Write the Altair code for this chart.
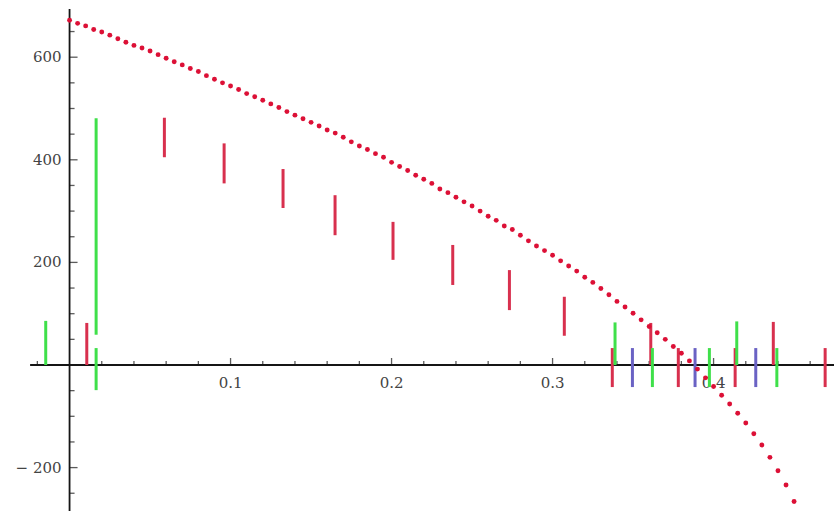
import altair as alt
import pandas as pd

# Sampled curve (dotted red)
curve_x = [
    0.000, 0.005, 0.010, 0.015, 0.020, 0.025, 0.030, 0.035, 0.040, 0.045,
    0.050, 0.055, 0.060, 0.065, 0.070, 0.075, 0.080, 0.085, 0.090, 0.095,
    0.100, 0.105, 0.110, 0.115, 0.120, 0.125, 0.130, 0.135, 0.140, 0.145,
    0.150, 0.155, 0.160, 0.165, 0.170, 0.175, 0.180, 0.185, 0.190, 0.195,
    0.200, 0.205, 0.210, 0.215, 0.220, 0.225, 0.230, 0.235, 0.240, 0.245,
    0.250, 0.255, 0.260, 0.265, 0.270, 0.275, 0.280, 0.285, 0.290, 0.295,
    0.300, 0.305, 0.310, 0.315, 0.320, 0.325, 0.330, 0.335, 0.340, 0.345,
    0.350, 0.355, 0.360, 0.365, 0.370, 0.375, 0.380, 0.385, 0.390, 0.395,
    0.400, 0.405, 0.410, 0.415, 0.420, 0.425, 0.430, 0.435, 0.440, 0.445,
    0.450,
]
curve_y = [
    672, 666, 661, 654, 649, 643, 636, 629, 623, 618,
    612, 605, 598, 591, 585, 578, 572, 564, 557, 550,
    544, 537, 529, 523, 516, 509, 502, 494, 487, 480,
    473, 466, 458, 452, 444, 435, 427, 420, 412, 405,
    395, 387, 379, 370, 362, 354, 343, 336, 327, 318,
    310, 300, 290, 282, 271, 264, 253, 242, 232, 223,
    214, 203, 193, 183, 171, 161, 149, 137, 124, 113,
    101, 88, 75, 63, 50, 36, 23, 8, -8, -25,
    -42, -59, -76, -94, -113, -134, -156, -180, -206, -234,
    -266,
]

# Vertical segments: position, lower end, upper end, series
seg_x = [
    -0.0148, 0.0107, 0.0165, 0.0165,
    0.0589, 0.0960, 0.1326, 0.1649, 0.2009, 0.2380, 0.2732, 0.3073,
    0.3371, 0.3388, 0.3496, 0.3610, 0.3620, 0.3781, 0.3885, 0.3974,
    0.4134, 0.4144, 0.4262, 0.4371, 0.4393, 0.4693,
]
seg_lo = [
    0, 0, 59, -49,
    405, 354, 306, 253, 205, 156, 107, 57,
    -43, 0, -43, 0, -43, -43, -43, -43,
    -43, 0, -43, 0, -43, -43,
]
seg_hi = [
    86, 82, 481, 33,
    482, 432, 382, 331, 279, 234, 185, 133,
    33, 83, 33, 82, 33, 33, 33, 33,
    33, 85, 33, 84, 33, 33,
]
seg_series = [
    "g", "r", "g", "g",
    "r", "r", "r", "r", "r", "r", "r", "r",
    "r", "g", "b", "r", "g", "r", "b", "g",
    "r", "g", "b", "r", "g", "r",
]

# Axis ticks and labels
x_major = [0.1, 0.2, 0.3, 0.4]
x_minor = [-0.02, 0.02, 0.04, 0.06, 0.08, 0.12, 0.14, 0.16, 0.18, 0.22, 0.24,
           0.26, 0.28, 0.32, 0.34, 0.36, 0.38, 0.42, 0.44, 0.46]
y_major = [-200, 200, 400, 600]
y_minor = [-250, -150, -100, -50, 50, 100, 150, 250, 300, 350, 450, 500, 550, 650]

X_DOMAIN = [-0.0432, 0.4748]
Y_DOMAIN = [-284.6, 711.5]
X_AXIS_START = -0.0245
Y_AXIS_TOP = 694

xs = alt.Scale(domain=X_DOMAIN, nice=False, zero=False)
ys = alt.Scale(domain=Y_DOMAIN, nice=False, zero=False)

AXIS_COLOR = "#151515"
LABEL_COLOR = "#444444"
FONT = "DejaVu Serif"
FONT_SIZE = 15

seg_df = pd.DataFrame({"x": seg_x, "lo": seg_lo, "hi": seg_hi, "s": seg_series})
curve_df = pd.DataFrame({"x": curve_x, "y": curve_y})

segments = alt.Chart(seg_df).mark_rule(strokeWidth=3, clip=True).encode(
    x=alt.X("x:Q", scale=xs, axis=None),
    y=alt.Y("lo:Q", scale=ys, axis=None),
    y2="hi:Q",
    color=alt.Color(
        "s:N",
        scale=alt.Scale(domain=["r", "g", "b"], range=["#d8304e", "#3fe04a", "#6a62c4"]),
        legend=None,
    ),
)

x_axis_line = alt.Chart(pd.DataFrame({"x": [X_AXIS_START], "x2": [X_DOMAIN[1]], "y": [0]})).mark_rule(
    color=AXIS_COLOR, strokeWidth=1.8
).encode(x=alt.X("x:Q", scale=xs, axis=None), x2="x2:Q", y=alt.Y("y:Q", scale=ys, axis=None))

y_axis_line = alt.Chart(pd.DataFrame({"x": [0], "y": [Y_DOMAIN[0]], "y2": [Y_AXIS_TOP]})).mark_rule(
    color=AXIS_COLOR, strokeWidth=1.8
).encode(x=alt.X("x:Q", scale=xs, axis=None), y=alt.Y("y:Q", scale=ys, axis=None), y2="y2:Q")

xmaj_df = pd.DataFrame({"x": x_major, "y": [0] * len(x_major)})
xmin_df = pd.DataFrame({"x": x_minor, "y": [0] * len(x_minor)})
ymaj_df = pd.DataFrame({"x": [0] * len(y_major), "y": y_major})
ymin_df = pd.DataFrame({"x": [0] * len(y_minor), "y": y_minor})

def enc(ch):
    return ch.encode(x=alt.X("x:Q", scale=xs, axis=None), y=alt.Y("y:Q", scale=ys, axis=None))

x_major_ticks = enc(alt.Chart(xmaj_df).mark_tick(
    orient="vertical", size=7, thickness=1.3, yOffset=-3.5, color=AXIS_COLOR))
x_minor_ticks = enc(alt.Chart(xmin_df).mark_tick(
    orient="vertical", size=4, thickness=1.3, yOffset=-2, color=AXIS_COLOR))
y_major_ticks = enc(alt.Chart(ymaj_df).mark_tick(
    orient="horizontal", size=8, thickness=1.3, xOffset=4, color=AXIS_COLOR))
y_minor_ticks = enc(alt.Chart(ymin_df).mark_tick(
    orient="horizontal", size=5, thickness=1.3, xOffset=2.5, color=AXIS_COLOR))

x_labels = alt.Chart(xmaj_df).mark_text(
    font=FONT, fontSize=FONT_SIZE, color=LABEL_COLOR, align="center", baseline="middle", dy=18
).encode(
    x=alt.X("x:Q", scale=xs, axis=None),
    y=alt.Y("y:Q", scale=ys, axis=None),
    text=alt.Text("x:Q", format=".1f"),
)

y_labels = alt.Chart(ymaj_df).transform_calculate(
    lab="datum.y < 0 ? '\u2212 ' + abs(datum.y) : '' + datum.y"
).mark_text(
    font=FONT, fontSize=FONT_SIZE, color=LABEL_COLOR, align="right", baseline="middle", dx=-8
).encode(
    x=alt.X("x:Q", scale=xs, axis=None),
    y=alt.Y("y:Q", scale=ys, axis=None),
    text="lab:N",
)

curve = alt.Chart(curve_df).mark_circle(size=24, opacity=1, color="#dc1036", clip=True).encode(
    x=alt.X("x:Q", scale=xs, axis=None),
    y=alt.Y("y:Q", scale=ys, axis=None),
)

chart = alt.layer(
    x_axis_line, y_axis_line,
    x_minor_ticks, x_major_ticks, y_minor_ticks, y_major_ticks,
    x_labels, y_labels,
    segments, curve,
).properties(
    width=834, height=511, padding=0, autosize="none", background="white"
).configure_view(stroke=None)

chart.save("out.html", embed_options={"renderer": "svg", "actions": False})
